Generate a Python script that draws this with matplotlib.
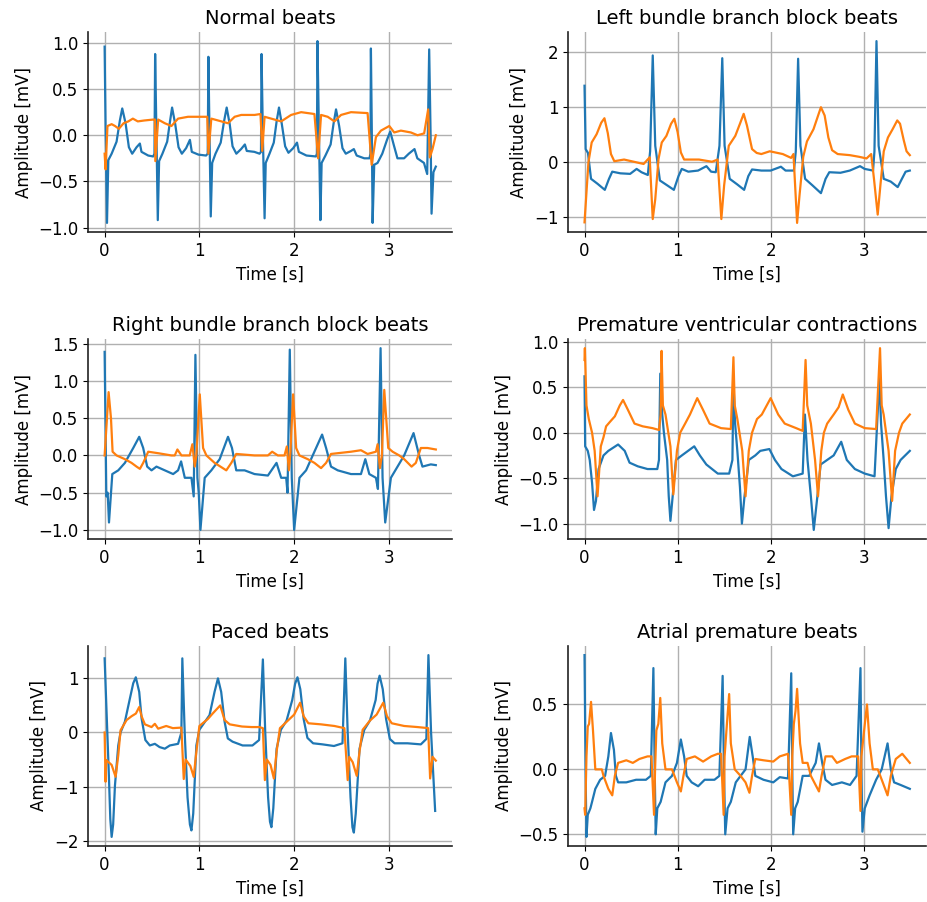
import matplotlib
matplotlib.use("Agg")
import matplotlib.pyplot as plt
import numpy as np


# (time [s], amplitude [mV])
normal_lead1 = [
    (0.000, 0.96), (0.011, 0.00), (0.025, -0.95), (0.039, -0.27), (0.074, -0.20), (0.126, -0.07),
    (0.161, 0.16), (0.186, 0.29), (0.221, 0.13), (0.256, -0.13), (0.291, -0.20), (0.337, -0.13),
    (0.372, -0.09), (0.389, -0.18), (0.460, -0.22), (0.512, -0.23), (0.526, -0.20), (0.533, 0.88),
    (0.547, 0.00), (0.561, -0.92), (0.575, -0.28), (0.610, -0.20), (0.660, -0.07), (0.690, 0.15),
    (0.712, 0.30), (0.745, 0.12), (0.780, -0.13), (0.815, -0.20), (0.860, -0.14), (0.900, -0.05),
    (0.920, -0.18), (0.990, -0.21), (1.070, -0.22), (1.088, -0.20), (1.095, 0.85), (1.107, 0.00),
    (1.120, -0.88), (1.135, -0.30), (1.170, -0.20), (1.225, -0.08), (1.260, 0.15), (1.288, 0.30),
    (1.320, 0.12), (1.350, -0.12), (1.390, -0.20), (1.440, -0.15), (1.480, -0.10), (1.500, -0.17),
    (1.580, -0.18), (1.635, -0.20), (1.650, -0.18), (1.656, 0.88), (1.670, 0.00), (1.688, -0.90),
    (1.700, -0.30), (1.740, -0.20), (1.785, -0.08), (1.815, 0.15), (1.840, 0.30), (1.870, 0.12),
    (1.905, -0.12), (1.940, -0.19), (1.990, -0.14), (2.030, -0.08), (2.050, -0.18), (2.130, -0.22),
    (2.230, -0.23), (2.240, -0.20), (2.246, 1.02), (2.262, 0.00), (2.277, -0.92), (2.290, -0.30),
    (2.330, -0.22), (2.385, -0.10), (2.415, 0.12), (2.442, 0.28), (2.475, 0.10), (2.510, -0.14),
    (2.545, -0.20), (2.600, -0.17), (2.630, -0.15), (2.660, -0.22), (2.740, -0.25), (2.795, -0.25),
    (2.805, -0.20), (2.810, 0.94), (2.820, 0.00), (2.828, -0.95), (2.845, -0.32), (2.880, -0.30),
    (2.930, -0.20), (2.980, -0.05), (3.014, 0.04), (3.050, -0.10), (3.090, -0.25), (3.160, -0.25),
    (3.210, -0.20), (3.270, -0.15), (3.300, -0.25), (3.370, -0.30), (3.404, -0.42), (3.425, 0.93),
    (3.440, 0.00), (3.450, -0.85), (3.470, -0.40), (3.495, -0.34),
]
normal_lead2 = [
    (0.000, -0.20), (0.010, -0.37), (0.030, 0.10), (0.074, 0.12), (0.110, 0.10), (0.150, 0.07),
    (0.200, 0.13), (0.250, 0.15), (0.298, 0.18), (0.350, 0.15), (0.420, 0.16), (0.515, 0.17),
    (0.530, 0.17), (0.535, -0.28), (0.565, 0.17), (0.635, 0.13), (0.705, 0.10), (0.775, 0.18),
    (0.880, 0.20), (1.020, 0.20), (1.083, 0.20), (1.095, -0.20), (1.126, 0.18), (1.232, 0.15),
    (1.302, 0.13), (1.372, 0.20), (1.442, 0.22), (1.583, 0.22), (1.645, 0.23), (1.663, -0.17),
    (1.688, 0.20), (1.793, 0.17), (1.863, 0.15), (1.968, 0.22), (2.074, 0.25), (2.214, 0.23),
    (2.253, -0.25), (2.284, 0.22), (2.354, 0.20), (2.425, 0.15), (2.495, 0.22), (2.600, 0.25),
    (2.775, 0.24), (2.818, -0.32), (2.863, -0.02), (2.916, 0.05), (3.004, 0.10), (3.056, 0.03),
    (3.126, 0.05), (3.232, 0.03), (3.302, 0.00), (3.372, 0.02), (3.414, 0.28), (3.432, -0.24),
    (3.460, -0.15), (3.495, 0.00),
]

lbbb_lead1 = [
    (0.000, 1.39), (0.012, 0.24), (0.037, 0.17), (0.070, -0.30), (0.140, -0.39), (0.218, -0.50),
    (0.263, -0.30), (0.298, -0.17), (0.385, -0.20), (0.490, -0.21), (0.560, -0.12), (0.612, -0.18),
    (0.680, -0.23), (0.705, 0.20), (0.733, 1.94), (0.760, 0.30), (0.810, -0.33), (0.890, -0.42),
    (0.960, -0.50), (1.010, -0.25), (1.045, -0.12), (1.115, -0.17), (1.220, -0.15), (1.310, -0.07),
    (1.360, -0.17), (1.410, -0.18), (1.450, 0.30), (1.480, 1.89), (1.505, 0.30), (1.560, -0.30),
    (1.640, -0.40), (1.715, -0.50), (1.760, -0.25), (1.800, -0.13), (1.900, -0.15), (2.000, -0.15),
    (2.110, -0.08), (2.160, -0.15), (2.250, -0.15), (2.270, 0.20), (2.295, 1.88), (2.320, 0.30),
    (2.370, -0.30), (2.450, -0.42), (2.540, -0.56), (2.590, -0.30), (2.630, -0.18), (2.750, -0.19),
    (2.850, -0.15), (2.960, -0.07), (3.010, -0.12), (3.100, -0.15), (3.115, 0.20), (3.137, 2.20),
    (3.160, 0.30), (3.215, -0.30), (3.290, -0.35), (3.365, -0.45), (3.410, -0.30), (3.450, -0.17),
    (3.495, -0.15),
]
lbbb_lead2 = [
    (0.000, -1.09), (0.042, 0.00), (0.077, 0.36), (0.130, 0.51), (0.180, 0.72), (0.214, 0.80),
    (0.250, 0.53), (0.284, 0.15), (0.320, 0.02), (0.425, 0.05), (0.530, 0.01), (0.635, -0.03),
    (0.700, 0.09), (0.733, -1.03), (0.760, -0.67), (0.795, 0.06), (0.830, 0.36), (0.880, 0.48),
    (0.930, 0.70), (0.965, 0.79), (1.000, 0.55), (1.035, 0.18), (1.070, 0.05), (1.230, 0.05),
    (1.370, 0.01), (1.430, 0.05), (1.470, -1.03), (1.500, -0.42), (1.550, 0.30), (1.620, 0.48),
    (1.670, 0.70), (1.710, 0.88), (1.745, 0.67), (1.800, 0.24), (1.850, 0.17), (1.900, 0.15),
    (1.990, 0.20), (2.130, 0.15), (2.220, 0.08), (2.245, 0.15), (2.284, -1.10), (2.310, -0.60),
    (2.350, 0.10), (2.390, 0.38), (2.460, 0.60), (2.510, 0.85), (2.540, 1.00), (2.580, 0.85),
    (2.620, 0.45), (2.660, 0.22), (2.720, 0.15), (2.850, 0.13), (2.950, 0.10), (3.030, 0.07),
    (3.080, 0.15), (3.110, -0.30), (3.150, -0.95), (3.180, -0.40), (3.215, 0.20), (3.260, 0.45),
    (3.310, 0.60), (3.360, 0.76), (3.390, 0.70), (3.430, 0.40), (3.460, 0.20), (3.495, 0.13),
]

rbbb_lead1 = [
    (0.000, 1.39), (0.018, -0.55), (0.032, -0.50), (0.046, -0.90), (0.081, -0.25), (0.144, -0.20),
    (0.214, -0.10), (0.302, 0.10), (0.365, 0.25), (0.407, 0.10), (0.449, -0.15), (0.495, -0.20),
    (0.547, -0.15), (0.635, -0.20), (0.723, -0.25), (0.775, -0.20), (0.807, -0.08), (0.846, -0.30),
    (0.916, -0.30), (0.940, -0.55), (0.958, 1.35), (0.979, -0.30), (0.993, -0.50), (1.011, -1.00),
    (1.056, -0.30), (1.126, -0.20), (1.214, -0.05), (1.302, 0.25), (1.344, 0.10), (1.389, -0.20),
    (1.477, -0.20), (1.582, -0.25), (1.723, -0.27), (1.814, -0.10), (1.863, -0.30), (1.916, -0.30),
    (1.930, -0.50), (1.954, 1.42), (1.975, -0.30), (2.000, -1.00), (2.056, -0.30), (2.126, -0.20),
    (2.196, 0.00), (2.295, 0.28), (2.337, 0.10), (2.389, -0.15), (2.460, -0.20), (2.600, -0.25),
    (2.705, -0.25), (2.751, -0.05), (2.793, -0.25), (2.863, -0.30), (2.884, -0.45), (2.912, 1.44),
    (2.933, -0.30), (2.961, -0.90), (3.021, -0.30), (3.091, -0.15), (3.161, 0.00), (3.260, 0.30),
    (3.319, 0.00), (3.354, -0.15), (3.442, -0.12), (3.495, -0.13),
]
rbbb_lead2 = [
    (0.000, 0.00), (0.042, 0.85), (0.067, 0.50), (0.084, 0.05), (0.126, 0.00), (0.214, -0.05),
    (0.284, -0.10), (0.337, -0.15), (0.372, -0.18), (0.407, -0.10), (0.460, 0.05), (0.565, 0.03),
    (0.705, 0.00), (0.740, 0.00), (0.768, 0.08), (0.811, 0.00), (0.898, 0.00), (0.926, 0.15),
    (0.951, -0.15), (0.968, 0.00), (1.004, 0.82), (1.039, 0.10), (1.074, 0.00), (1.161, -0.10),
    (1.284, -0.20), (1.337, -0.10), (1.389, 0.02), (1.582, 0.00), (1.723, 0.00), (1.768, 0.05),
    (1.828, 0.00), (1.898, 0.00), (1.923, 0.12), (1.944, -0.20), (1.961, 0.05), (1.989, 0.82),
    (2.021, 0.10), (2.056, 0.00), (2.144, -0.05), (2.214, -0.10), (2.284, -0.17), (2.337, -0.10),
    (2.389, 0.02), (2.600, 0.05), (2.705, 0.07), (2.775, 0.02), (2.863, 0.05), (2.881, 0.15),
    (2.905, -0.17), (2.926, 0.00), (2.951, 0.88), (2.993, 0.10), (3.039, 0.05), (3.109, 0.00),
    (3.161, -0.05), (3.239, -0.15), (3.284, -0.10), (3.337, 0.10), (3.407, 0.10), (3.495, 0.08),
]

pvc_lead1 = [
    (0.000, 0.62), (0.007, -0.15), (0.035, -0.20), (0.056, -0.30), (0.081, -0.55), (0.102, -0.85),
    (0.123, -0.75), (0.151, -0.40), (0.204, -0.25), (0.256, -0.20), (0.361, -0.13), (0.432, -0.20),
    (0.484, -0.33), (0.572, -0.37), (0.677, -0.40), (0.782, -0.40), (0.800, -0.30), (0.814, 0.65),
    (0.835, 0.20), (0.853, 0.00), (0.888, -0.30), (0.905, -0.70), (0.923, -0.97), (0.947, -0.70),
    (0.982, -0.30), (1.046, -0.25), (1.179, -0.15), (1.239, -0.25), (1.309, -0.35), (1.432, -0.45),
    (1.554, -0.45), (1.589, -0.30), (1.600, 0.55), (1.618, 0.10), (1.642, -0.20), (1.670, -0.60),
    (1.691, -1.00), (1.719, -0.70), (1.765, -0.30), (1.835, -0.25), (1.888, -0.20), (1.986, -0.18),
    (2.046, -0.30), (2.116, -0.40), (2.239, -0.48), (2.344, -0.45), (2.368, 0.20), (2.396, -0.30),
    (2.432, -0.70), (2.463, -1.07), (2.502, -0.70), (2.537, -0.35), (2.607, -0.30), (2.677, -0.25),
    (2.758, -0.10), (2.818, -0.30), (2.905, -0.40), (3.011, -0.45), (3.116, -0.48), (3.168, 0.60),
    (3.186, 0.10), (3.214, -0.30), (3.239, -0.70), (3.267, -1.05), (3.298, -0.70), (3.344, -0.40),
    (3.396, -0.30), (3.495, -0.20),
]
pvc_lead2 = [
    (0.000, 0.80), (0.004, 0.93), (0.021, 0.30), (0.046, 0.15), (0.081, 0.00), (0.109, -0.20),
    (0.140, -0.70), (0.175, -0.15), (0.204, -0.05), (0.232, 0.07), (0.274, 0.12), (0.326, 0.18),
    (0.379, 0.30), (0.414, 0.36), (0.467, 0.25), (0.537, 0.10), (0.625, 0.07), (0.730, 0.05),
    (0.800, 0.03), (0.818, 0.20), (0.828, 0.90), (0.842, 0.30), (0.870, 0.20), (0.923, -0.15),
    (0.954, -0.68), (0.993, -0.20), (1.028, 0.00), (1.081, 0.10), (1.133, 0.20), (1.211, 0.38),
    (1.274, 0.25), (1.344, 0.10), (1.467, 0.05), (1.572, 0.04), (1.600, 0.83), (1.614, 0.30),
    (1.642, 0.15), (1.695, -0.20), (1.730, -0.70), (1.765, -0.20), (1.800, 0.00), (1.853, 0.15),
    (1.905, 0.20), (2.000, 0.38), (2.081, 0.20), (2.151, 0.10), (2.274, 0.05), (2.344, 0.02),
    (2.375, 0.80), (2.393, 0.30), (2.432, 0.10), (2.477, -0.30), (2.509, -0.70), (2.544, -0.20),
    (2.572, 0.00), (2.607, 0.10), (2.677, 0.20), (2.730, 0.28), (2.775, 0.42), (2.835, 0.25),
    (2.905, 0.10), (3.011, 0.05), (3.133, 0.04), (3.175, 0.93), (3.193, 0.30), (3.214, 0.20),
    (3.267, -0.20), (3.305, -0.75), (3.337, -0.20), (3.379, 0.00), (3.414, 0.10), (3.495, 0.20),
]

paced_lead1 = [
    (0.000, 1.37), (0.020, 0.40), (0.045, -0.80), (0.060, -1.60), (0.074, -1.93), (0.090, -1.70),
    (0.109, -0.98), (0.144, -0.24), (0.168, 0.00), (0.214, 0.20), (0.267, 0.63), (0.302, 0.91),
    (0.329, 1.02), (0.365, 0.75), (0.390, 0.26), (0.430, -0.14), (0.477, -0.24), (0.530, -0.21),
    (0.580, -0.27), (0.635, -0.30), (0.688, -0.24), (0.775, -0.21), (0.810, 0.00), (0.820, 1.37),
    (0.845, 0.00), (0.875, -1.20), (0.900, -1.70), (0.916, -1.81), (0.935, -1.50), (0.968, -0.24),
    (1.000, 0.05), (1.107, 0.32), (1.160, 0.75), (1.196, 1.00), (1.230, 0.75), (1.266, 0.20),
    (1.300, -0.11), (1.350, -0.17), (1.456, -0.24), (1.560, -0.24), (1.630, -0.14), (1.670, 1.35),
    (1.695, 0.00), (1.725, -1.20), (1.745, -1.65), (1.760, -1.75), (1.780, -1.40), (1.815, -0.30),
    (1.860, 0.05), (1.920, 0.22), (1.980, 0.60), (2.010, 0.90), (2.035, 1.02), (2.065, 0.80),
    (2.100, 0.25), (2.140, -0.10), (2.200, -0.20), (2.300, -0.22), (2.420, -0.25), (2.510, -0.20),
    (2.540, 1.37), (2.565, 0.00), (2.595, -1.20), (2.615, -1.75), (2.630, -1.85), (2.650, -1.50),
    (2.690, -0.30), (2.740, 0.05), (2.800, 0.22), (2.860, 0.60), (2.880, 0.90), (2.902, 1.05),
    (2.935, 0.80), (2.970, 0.25), (3.010, -0.12), (3.060, -0.20), (3.196, -0.20), (3.337, -0.22),
    (3.395, -0.12), (3.417, 1.43), (3.445, 0.00), (3.488, -1.45),
]
paced_lead2 = [
    (0.000, 0.00), (0.010, -0.91), (0.017, -0.51), (0.074, -0.60), (0.116, -0.82), (0.144, -0.42),
    (0.168, 0.04), (0.232, 0.23), (0.284, 0.30), (0.330, 0.35), (0.365, 0.47), (0.390, 0.30),
    (0.425, 0.15), (0.495, 0.10), (0.530, 0.16), (0.565, 0.07), (0.650, 0.12), (0.720, 0.08),
    (0.810, 0.09), (0.835, -0.86), (0.855, -0.50), (0.905, -0.62), (0.940, -0.82), (0.968, -0.36),
    (1.000, 0.12), (1.090, 0.25), (1.140, 0.35), (1.220, 0.50), (1.266, 0.23), (1.320, 0.15),
    (1.450, 0.11), (1.550, 0.10), (1.630, 0.10), (1.670, 0.08), (1.691, -0.88), (1.712, -0.50),
    (1.751, -0.60), (1.786, -0.85), (1.815, -0.35), (1.850, 0.08), (1.940, 0.23), (2.000, 0.33),
    (2.063, 0.55), (2.100, 0.30), (2.150, 0.17), (2.284, 0.15), (2.425, 0.12), (2.530, 0.08),
    (2.565, -0.88), (2.582, -0.45), (2.618, -0.55), (2.660, -0.80), (2.690, -0.35), (2.723, 0.05),
    (2.800, 0.22), (2.870, 0.33), (2.940, 0.55), (2.980, 0.30), (3.030, 0.17), (3.161, 0.12),
    (3.302, 0.10), (3.414, 0.08), (3.435, -0.85), (3.460, -0.45), (3.495, -0.52),
]

apb_lead1 = [
    (0.000, 0.88), (0.011, 0.00), (0.021, -0.52), (0.035, -0.35), (0.063, -0.30), (0.081, -0.25),
    (0.116, -0.15), (0.168, -0.08), (0.221, -0.05), (0.256, 0.10), (0.284, 0.28), (0.316, 0.15),
    (0.337, -0.05), (0.361, -0.10), (0.449, -0.10), (0.554, -0.08), (0.660, -0.08), (0.712, -0.05),
    (0.740, 0.78), (0.754, 0.00), (0.765, -0.50), (0.782, -0.30), (0.818, -0.25), (0.870, -0.10),
    (0.940, -0.05), (0.993, 0.05), (1.035, 0.23), (1.070, 0.10), (1.098, -0.05), (1.151, -0.10),
    (1.221, -0.13), (1.291, -0.08), (1.396, -0.08), (1.449, -0.05), (1.484, 0.72), (1.498, 0.00),
    (1.512, -0.50), (1.537, -0.30), (1.572, -0.25), (1.625, -0.10), (1.677, -0.05), (1.730, 0.00),
    (1.775, 0.25), (1.807, 0.10), (1.835, -0.05), (1.923, -0.08), (2.028, -0.10), (2.098, -0.06),
    (2.186, -0.07), (2.221, 0.74), (2.232, 0.00), (2.242, -0.50), (2.263, -0.30), (2.291, -0.25),
    (2.344, -0.05), (2.414, -0.05), (2.484, 0.05), (2.519, 0.20), (2.554, 0.05), (2.589, -0.08),
    (2.660, -0.12), (2.765, -0.10), (2.853, -0.12), (2.923, -0.05), (2.965, 0.78), (2.975, 0.00),
    (2.986, -0.48), (3.011, -0.30), (3.063, -0.20), (3.133, -0.08), (3.193, 0.00), (3.256, 0.20),
    (3.291, 0.00), (3.326, -0.10), (3.396, -0.12), (3.495, -0.15),
]
apb_lead2 = [
    (0.000, -0.30), (0.007, -0.35), (0.021, 0.10), (0.035, 0.33), (0.049, 0.35), (0.070, 0.52),
    (0.091, 0.30), (0.116, 0.00), (0.151, 0.00), (0.186, 0.00), (0.204, -0.05), (0.256, -0.15),
    (0.298, -0.20), (0.326, -0.05), (0.361, 0.05), (0.449, 0.07), (0.519, 0.05), (0.589, 0.08),
    (0.677, 0.10), (0.719, 0.10), (0.747, -0.35), (0.758, 0.00), (0.772, 0.30), (0.793, 0.35),
    (0.814, 0.55), (0.835, 0.20), (0.870, 0.00), (0.940, 0.00), (0.993, -0.10), (1.035, -0.17),
    (1.063, -0.05), (1.098, 0.08), (1.186, 0.10), (1.274, 0.06), (1.361, 0.10), (1.432, 0.12),
    (1.467, 0.12), (1.495, -0.35), (1.505, 0.10), (1.530, 0.35), (1.554, 0.58), (1.572, 0.20),
    (1.614, 0.00), (1.677, -0.05), (1.730, -0.10), (1.772, -0.18), (1.800, -0.05), (1.835, 0.08),
    (1.923, 0.07), (2.028, 0.06), (2.098, 0.10), (2.186, 0.12), (2.221, -0.35), (2.232, 0.10),
    (2.249, 0.35), (2.267, 0.45), (2.284, 0.62), (2.316, 0.20), (2.344, 0.05), (2.396, 0.05),
    (2.432, -0.05), (2.519, -0.17), (2.547, -0.05), (2.589, 0.10), (2.660, 0.10), (2.712, 0.05),
    (2.800, 0.08), (2.870, 0.10), (2.940, 0.10), (2.965, -0.32), (2.975, 0.10), (3.004, 0.30),
    (3.035, 0.50), (3.063, 0.20), (3.098, 0.00), (3.151, 0.00), (3.204, -0.10), (3.256, -0.20),
    (3.291, -0.05), (3.344, 0.08), (3.414, 0.12), (3.495, 0.05),
]

titles = [
    "Normal beats", "Left bundle branch block beats",
    "Right bundle branch block beats", "Premature ventricular contractions",
    "Paced beats", "Atrial premature beats",
]
signals = [
    (normal_lead1, normal_lead2), (lbbb_lead1, lbbb_lead2),
    (rbbb_lead1, rbbb_lead2), (pvc_lead1, pvc_lead2),
    (paced_lead1, paced_lead2), (apb_lead1, apb_lead2),
]
# y tick spacing used on each panel
ytick_steps = [0.5, 1.0, 0.5, 0.5, 1.0, 0.5]

fig = plt.figure(figsize=(9.27, 9.02), dpi=100)

col_left = [0.095, 0.613]
col_width = [0.393, 0.386]
row_bottom = [0.7428, 0.4024, 0.0621]
row_height = 0.2217

for i, (title, (lead1, lead2)) in enumerate(zip(titles, signals)):
    row, col = divmod(i, 2)
    ax = fig.add_axes([col_left[col], row_bottom[row], col_width[col], row_height])
    t1, v1 = np.array(lead1).T
    t2, v2 = np.array(lead2).T
    ax.plot(t1, v1, color="C0", lw=1.6)
    ax.plot(t2, v2, color="C1", lw=1.6)
    ax.set_title(title, fontsize=14)
    ax.set_xlabel("Time [s]", fontsize=12)
    ax.set_ylabel("Amplitude [mV]", fontsize=12)
    ax.tick_params(labelsize=12)
    ax.grid(True, color="#b0b0b0", lw=1.0)
    ax.set_axisbelow(True)
    ax.set_xticks([0, 1, 2, 3])
    ax.yaxis.set_major_locator(plt.MultipleLocator(ytick_steps[i]))
    ax.spines["top"].set_visible(False)
    ax.spines["right"].set_visible(False)
    for side in ["left", "bottom"]:
        ax.spines[side].set_color("#222222")
        ax.spines[side].set_linewidth(1.2)

fig.savefig("out.png", dpi=100)
